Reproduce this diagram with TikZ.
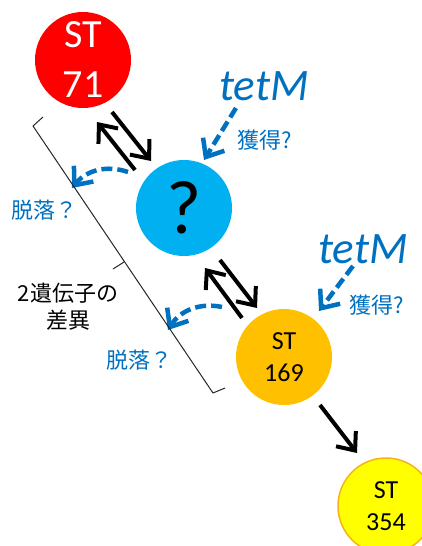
\documentclass[tikz,border=0pt]{standalone}
\usepackage{fontspec}
\setmainfont{Carlito}
\newfontfamily\jp{Noto Sans CJK JP}
\usetikzlibrary{arrows.meta}
\definecolor{cred}{RGB}{255,0,0}
\definecolor{ccyan}{RGB}{0,176,240}
\definecolor{corange}{RGB}{255,192,0}
\definecolor{cyellow}{RGB}{255,255,0}
\definecolor{cyborder}{RGB}{245,180,20}
\definecolor{cblue}{RGB}{0,112,192}
\begin{document}
\begin{tikzpicture}[x=1pt,y=-1pt,
  circ/.style={circle, inner sep=0pt, minimum size=96pt, align=center},
  blk/.style={draw=black, line width=4pt, -{Straight Barb[length=15pt,width=25pt]}},
  blu/.style={draw=cblue, line width=4.5pt, dash pattern=on 11pt off 5pt, -{Straight Barb[length=15pt,width=25pt]}},
  jtxt/.style={font=\jp\fontsize{22}{27}\selectfont, anchor=base},
  bluetxt/.style={jtxt, text=cblue},
  tettxt/.style={font=\fontsize{45}{50}\selectfont\itshape, text=cblue, anchor=base},
  brk/.style={draw=black!85, line width=1pt, line join=round}
]
\useasboundingbox (0,0) rectangle (422,546);
\clip (0,0) rectangle (422,546);

% circles
\node[circ, fill=cred, text=white, font=\fontsize{40}{50}\selectfont] (st71) at (83,60) {ST\\71};
\node[circ, fill=ccyan, font=\fontsize{76}{80}\selectfont] (q) at (184,208) {?};
\node[circ, fill=corange, font=\fontsize{26}{32}\selectfont] (st169) at (284,357) {ST\\169};
\node[circ, fill=cyellow, draw=cyborder, line width=1.5pt, font=\fontsize{26}{32}\selectfont] (st354) at (386,506) {ST\\354};

% labels
\node[tettxt] (tet1) at (264,100) {tetM};
\node[tettxt] (tet2) at (363,263) {tetM};
\node[bluetxt] (gain1) at (265,148) {獲得?};
\node[bluetxt] (gain2) at (377,313) {獲得?};
\node[bluetxt] (loss1) at (44,218) {脱落？};
\node[bluetxt] (loss2) at (139,368) {脱落？};
\node[jtxt] (diff1) at (68,301) {2遺伝子の};
\node[jtxt] (diff2) at (68,328) {差異};

% arrow end points
\coordinate (a1s) at (112,112); \coordinate (a1e) at (151,161);
\coordinate (a2s) at (135,170); \coordinate (a2e) at (97,122);
\coordinate (a3s) at (220,260); \coordinate (a3e) at (257,308);
\coordinate (a4s) at (242,318); \coordinate (a4e) at (205,268);
\coordinate (a5s) at (320,405); \coordinate (a5e) at (357,453);
\coordinate (b1s) at (236,108); \coordinate (b1e) at (204,160);
\coordinate (b2s) at (353,266); \coordinate (b2e) at (319,311);
\coordinate (c1s) at (128,172); \coordinate (c1e) at (72,188);
\coordinate (c2s) at (222,307); \coordinate (c2e) at (168,330);

% black arrows
\draw[blk] (a1s) -- (a1e);
\draw[blk] (a2s) -- (a2e);
\draw[blk] (a3s) -- (a3e);
\draw[blk] (a4s) -- (a4e);
\draw[blk] (a5s) -- (a5e);

% blue dashed arrows
\draw[blu] (b1s) -- (b1e);
\draw[blu] (b2s) -- (b2e);
\draw[blu] (c1s) to[bend right=35] (c1e);
\draw[blu] (c2s) to[bend right=35] (c2e);

% bracket
\coordinate (k1) at (43,117); \coordinate (k2) at (33,126);
\coordinate (k3) at (213,393); \coordinate (k4) at (225,388);
\coordinate (km) at (124,262); \coordinate (kt) at (113,269);
\draw[brk] (k1) -- (k2) -- (k3) -- (k4);
\draw[brk] (km) -- (kt);
\end{tikzpicture}
\end{document}
